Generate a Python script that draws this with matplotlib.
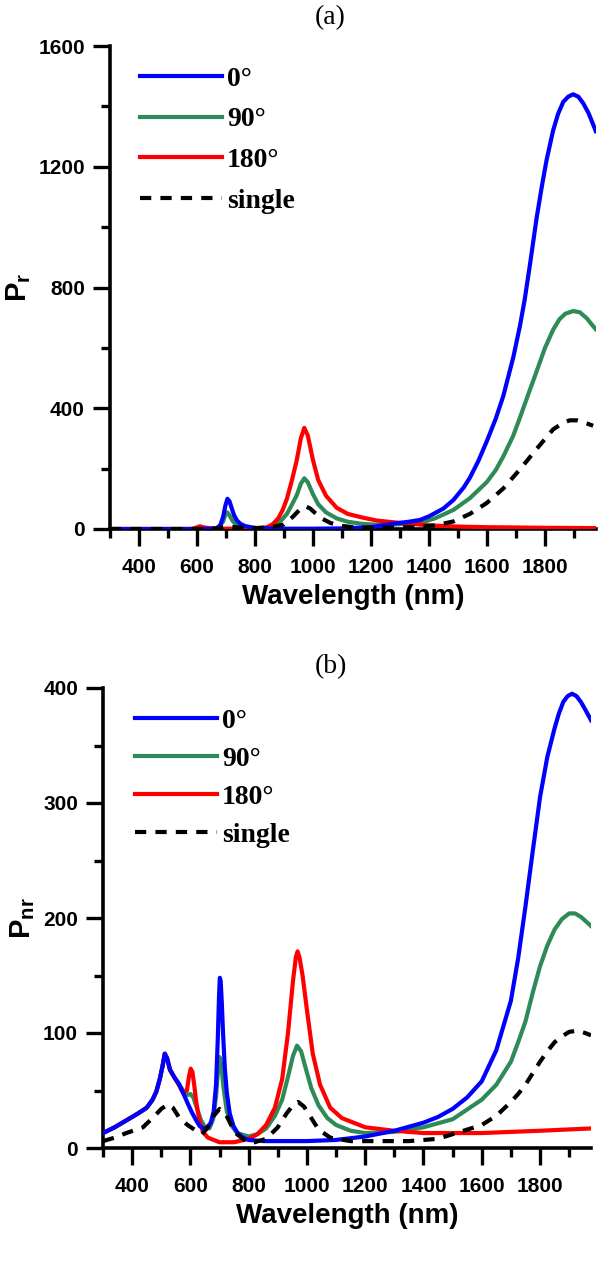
import matplotlib
matplotlib.use("Agg")
import matplotlib.pyplot as plt
from matplotlib.ticker import MultipleLocator
from matplotlib.font_manager import FontProperties

plt.rcParams['mathtext.fontset'] = 'custom'
plt.rcParams['mathtext.rm'] = 'Liberation Sans:bold'
plt.rcParams['mathtext.it'] = 'Liberation Sans:bold'
plt.rcParams['mathtext.bf'] = 'Liberation Sans:bold'

# ---------------- data: panel (a) P_r ----------------
a_blue_wl = [300, 400, 500, 600, 650, 668, 680, 690, 698, 705, 712, 720, 728, 738, 750, 765, 785, 806, 850,
             900, 1000, 1100, 1200, 1280, 1330, 1369, 1400, 1450, 1484, 1520, 1541, 1570, 1599, 1630, 1656,
             1691, 1714, 1730, 1748, 1771, 1790, 1806, 1828, 1845, 1863, 1880, 1897, 1915, 1932, 1950,
             1966, 1975]
a_blue_v = [0, 0, 0, 0, 1, 3, 12, 40, 78, 100, 92, 68, 45, 28, 17, 10, 6, 3, 2,
            1, 1, 2, 6, 18, 24, 30, 42, 68, 96, 138, 170, 225, 290, 365, 440,
            570, 675, 760, 875, 1030, 1140, 1225, 1320, 1375, 1415, 1432, 1440, 1432, 1410, 1378,
            1340, 1318]

a_green_wl = [300, 500, 650, 675, 690, 698, 705, 712, 722, 735, 760, 800, 850, 870, 892, 910, 927, 944,
              958, 970, 982, 1000, 1018, 1045, 1082, 1120, 1170, 1220, 1280, 1369, 1420, 1484, 1541, 1599,
              1630, 1656, 1690, 1714, 1740, 1771, 1800, 1828, 1850, 1870, 1897, 1920, 1945, 1966, 1975]
a_green_v = [0, 0, 0, 4, 25, 48, 55, 45, 28, 14, 6, 3, 5, 12, 30, 50, 80, 112,
             150, 168, 155, 115, 82, 55, 35, 24, 17, 14, 15, 20, 35, 63, 102, 155,
             195, 240, 308, 370, 440, 522, 600, 660, 695, 713, 722, 718, 697, 672, 662]

a_red_wl = [300, 500, 580, 595, 610, 625, 650, 700, 800, 840, 860, 880, 895, 910, 927, 944, 958, 970,
            982, 1000, 1018, 1045, 1082, 1120, 1170, 1220, 1280, 1400, 1500, 1600, 1800, 1975]
a_red_v = [0, 0, 0, 4, 9, 5, 2, 1, 1, 5, 15, 35, 62, 100, 160, 228, 300, 335,
           310, 228, 162, 110, 70, 50, 38, 28, 22, 12, 8, 6, 4, 3]

a_single_wl = [300, 500, 650, 690, 710, 730, 760, 800, 850, 900, 930, 955, 975, 990, 1005, 1030, 1060,
               1100, 1150, 1200, 1300, 1369, 1420, 1484, 1541, 1599, 1656, 1714, 1771, 1828, 1863,
               1885, 1910, 1943, 1966]
a_single_v = [0, 0, 0, 5, 8, 6, 4, 3, 5, 15, 40, 65, 75, 68, 55, 35, 20,
              10, 5, 4, 5, 8, 12, 25, 50, 86, 134, 198, 265, 330, 352,
              360, 360, 350, 342]

# ---------------- data: panel (b) P_nr ----------------
b_blue_wl = [300, 340, 380, 420, 450, 470, 483, 495, 505, 512, 520, 530, 546, 560, 569, 580, 592, 605,
             620, 632, 645, 658, 670, 680, 688, 694, 698, 701, 704, 708, 712, 718, 725, 735, 748, 762,
             780, 800, 850, 900, 1000, 1100, 1200, 1300, 1400, 1450, 1500, 1550, 1600, 1650, 1700,
             1725, 1750, 1775, 1800, 1825, 1850, 1865, 1880, 1895, 1910, 1925, 1940, 1958, 1975]
b_blue_v = [13, 18, 24, 30, 35, 42, 49, 60, 72, 82, 78, 68, 61, 56, 51, 45, 38, 31,
            24, 19, 17, 18, 22, 32, 55, 95, 130, 148, 145, 125, 100, 70, 48, 30, 19, 13,
            9, 7, 6, 6, 6, 7, 10, 15, 22, 27, 34, 44, 58, 85, 128,
            165, 210, 258, 305, 340, 365, 378, 388, 393, 395, 393, 388, 380, 372]

b_green_wl = [300, 340, 380, 420, 450, 470, 483, 495, 505, 512, 520, 530, 546, 560, 575, 590, 600, 610,
              622, 635, 650, 665, 678, 688, 695, 700, 706, 714, 725, 740, 760, 800, 830, 860, 890, 915,
              935, 952, 966, 980, 995, 1015, 1040, 1070, 1100, 1150, 1200, 1300, 1400, 1500, 1600, 1650,
              1700, 1725, 1750, 1775, 1800, 1825, 1850, 1875, 1900, 1920, 1940, 1958, 1975]
b_green_v = [13, 18, 24, 30, 35, 42, 49, 60, 72, 82, 78, 68, 61, 56, 50, 46, 47, 44,
             35, 25, 18, 17, 25, 45, 68, 79, 72, 52, 32, 20, 13, 10, 12, 17, 28, 42,
             62, 80, 89, 84, 70, 52, 37, 26, 20, 15, 13, 14, 18, 25, 42, 55,
             75, 92, 110, 135, 158, 176, 190, 199, 204, 204, 201, 197, 193]

b_red_wl = [300, 340, 380, 420, 450, 470, 483, 495, 505, 512, 520, 530, 546, 560, 575, 588, 595, 601,
            607, 613, 620, 630, 643, 660, 680, 700, 750, 800, 830, 860, 890, 915, 935, 952, 962, 968,
            975, 985, 1000, 1020, 1045, 1080, 1120, 1200, 1300, 1400, 1600, 1800, 1975]
b_red_v = [13, 18, 24, 30, 35, 42, 49, 60, 72, 82, 78, 68, 61, 55, 48, 50, 62, 69,
           66, 55, 40, 25, 14, 9, 7, 5, 5, 8, 12, 20, 35, 60, 100, 145, 166, 171,
           165, 150, 120, 82, 55, 35, 26, 18, 15, 13, 13, 15, 17]

b_single_wl = [300, 340, 380, 437, 470, 500, 523, 540, 560, 590, 620, 640, 660, 680, 700, 720, 740,
               760, 790, 820, 860, 900, 930, 955, 970, 990, 1010, 1040, 1080, 1150, 1250, 1350, 1450,
               1500, 1600, 1650, 1700, 1725, 1750, 1775, 1800, 1825, 1850, 1875, 1900, 1930, 1955, 1975]
b_single_v = [6, 9, 13, 18, 26, 34, 38, 35, 27, 20, 15, 12, 18, 28, 34, 30, 20,
              12, 6, 5, 8, 18, 30, 38, 40, 36, 28, 16, 9, 6, 6, 6, 8,
              12, 20, 28, 40, 47, 55, 65, 75, 84, 92, 97, 101, 102, 100, 98]

labels = ["0°", "90°", "180°", "single"]
colors = ["#0000ff", "#2e8b57", "#ff0000", "#000000"]
xticks = [400, 600, 800, 1000, 1200, 1400, 1600, 1800]

W, H = 600, 1263
fig = plt.figure(figsize=(W / 100, H / 100), dpi=100)

def px_axes(left, right, top, bottom):
    return [left / W, 1 - bottom / H, (right - left) / W, (bottom - top) / H]

ax1 = fig.add_axes(px_axes(110, 595.75, 46, 529))
ax2 = fig.add_axes(px_axes(103, 591, 688, 1148))

tick_fp = FontProperties(family="Liberation Sans", weight="bold", size=15)

def style(ax, ymax, ymajor, yminor, ylabel, leg_xy, lspacing):
    ax.set_xlim(300, 1975)
    ax.set_ylim(0, ymax)
    ax.spines['top'].set_visible(False)
    ax.spines['right'].set_visible(False)
    for s in ['left', 'bottom']:
        ax.spines[s].set_linewidth(2.6)
    ax.set_xticks(xticks)
    ax.xaxis.set_minor_locator(MultipleLocator(100))
    ax.yaxis.set_major_locator(MultipleLocator(ymajor))
    ax.yaxis.set_minor_locator(MultipleLocator(yminor))
    ax.tick_params(which='major', direction='out', length=12, width=2.4)
    ax.tick_params(which='minor', direction='out', length=6.5, width=2.4)
    ax.tick_params(axis='x', which='major', pad=9)
    ax.tick_params(axis='y', which='major', pad=6)
    for t in ax.get_xticklabels() + ax.get_yticklabels():
        t.set_fontproperties(tick_fp)
    ax.set_xlabel("Wavelength (nm)", family="Liberation Sans", weight="bold", size=20, labelpad=5)
    ax.set_ylabel(ylabel, family="Liberation Sans", weight="bold", size=21, labelpad=4)
    ax.legend(loc="upper left", bbox_to_anchor=leg_xy, frameon=False, borderaxespad=0,
              handlelength=2.95, handletextpad=0.18, labelspacing=lspacing, borderpad=0,
              prop=dict(family="Liberation Serif", weight="bold", size=20))

series_a = [(a_blue_wl, a_blue_v), (a_green_wl, a_green_v), (a_red_wl, a_red_v), (a_single_wl, a_single_v)]
series_b = [(b_blue_wl, b_blue_v), (b_green_wl, b_green_v), (b_red_wl, b_red_v), (b_single_wl, b_single_v)]

for ax, series in [(ax1, series_a), (ax2, series_b)]:
    for i, ((x, y), c, lab) in enumerate(zip(series, colors, labels)):
        if lab == "single":
            ax.plot(x, y, color=c, lw=3, ls=(0, (2.7, 2.2)), label=lab, zorder=4)
        else:
            ax.plot(x, y, color=c, lw=3, label=lab, zorder=3 + (0.1 if i == 0 else 0),
                    solid_joinstyle='round')

style(ax1, 1600, 400, 200, "P$_\\mathregular{r}$", (0.0618, 0.958), 0.55)
style(ax2, 400, 100, 50, "P$_\\mathregular{nr}$", (0.0656, 0.955), 0.45)

fig.text(330 / W, 1 - 18 / H, "(a)", family="Liberation Serif", size=20, ha="center", va="center")
fig.text(331 / W, 1 - 667 / H, "(b)", family="Liberation Serif", size=20, ha="center", va="center")

fig.savefig("out.png", dpi=100)
